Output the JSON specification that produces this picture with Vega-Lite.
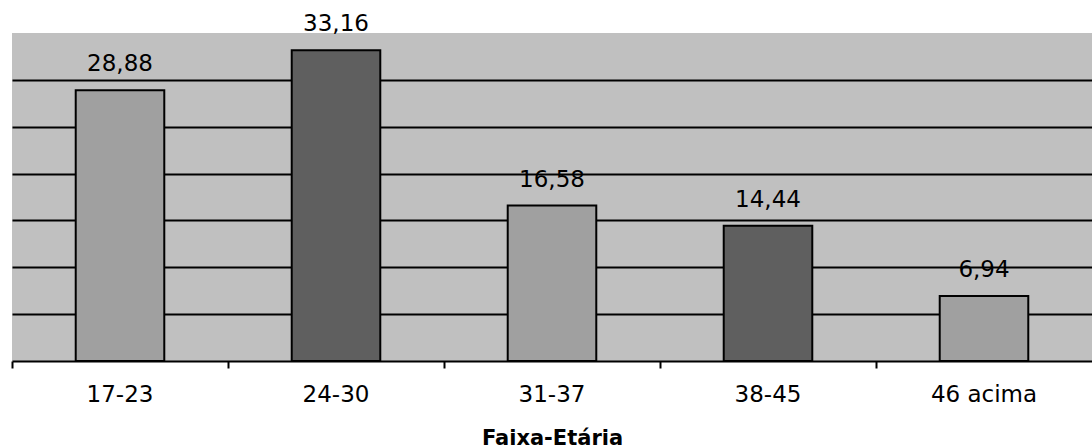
{
  "$schema": "https://vega.github.io/schema/vega-lite/v6.json",
  "width": 1080,
  "height": 328,
  "autosize": "none",
  "padding": {"left": 12, "top": 33, "right": 0, "bottom": 87},
  "background": "white",
  "config": {
    "view": {"fill": "#C0C0C0", "stroke": null},
    "font": "DejaVu Sans"
  },
  "data": {
    "values": [
      {"faixa": "17-23", "valor": 28.88, "label": "28,88", "tom": "claro"},
      {"faixa": "24-30", "valor": 33.16, "label": "33,16", "tom": "escuro"},
      {"faixa": "31-37", "valor": 16.58, "label": "16,58", "tom": "claro"},
      {"faixa": "38-45", "valor": 14.44, "label": "14,44", "tom": "escuro"},
      {"faixa": "46 acima", "valor": 6.94, "label": "6,94", "tom": "claro"}
    ]
  },
  "encoding": {
    "x": {
      "field": "faixa",
      "type": "nominal",
      "sort": null,
      "scale": {"paddingInner": 0, "paddingOuter": 0},
      "axis": {
        "title": "Faixa-Etária",
        "titleFont": "DejaVu Sans",
        "titleFontSize": 21,
        "titleFontWeight": "bold",
        "titleColor": "black",
        "titlePadding": 21,
        "labelAngle": 0,
        "labelFont": "DejaVu Sans",
        "labelFontSize": 23,
        "labelColor": "black",
        "labelPadding": 15,
        "bandPosition": 0,
        "ticks": true,
        "tickSize": 7,
        "tickWidth": 2,
        "tickColor": "black",
        "domainColor": "black",
        "domainWidth": 2,
        "grid": false
      }
    }
  },
  "layer": [
    {
      "mark": {"type": "bar", "width": {"band": 0.41}, "stroke": "black", "strokeWidth": 2},
      "encoding": {
        "y": {
          "field": "valor",
          "type": "quantitative",
          "scale": {"domain": [0, 35], "nice": false},
          "axis": {
            "title": null,
            "labels": false,
            "ticks": false,
            "domain": false,
            "grid": true,
            "gridColor": "black",
            "gridWidth": 2,
            "gridOpacity": 1,
            "values": [5, 10, 15, 20, 25, 30]
          }
        },
        "fill": {
          "field": "tom",
          "type": "nominal",
          "scale": {"domain": ["claro", "escuro"], "range": ["#A0A0A0", "#5F5F5F"]},
          "legend": null
        }
      }
    },
    {
      "mark": {"type": "text", "baseline": "alphabetic", "dy": -19, "fontSize": 23, "font": "DejaVu Sans", "color": "black"},
      "encoding": {
        "y": {"field": "valor", "type": "quantitative"},
        "text": {"field": "label"}
      }
    }
  ]
}
